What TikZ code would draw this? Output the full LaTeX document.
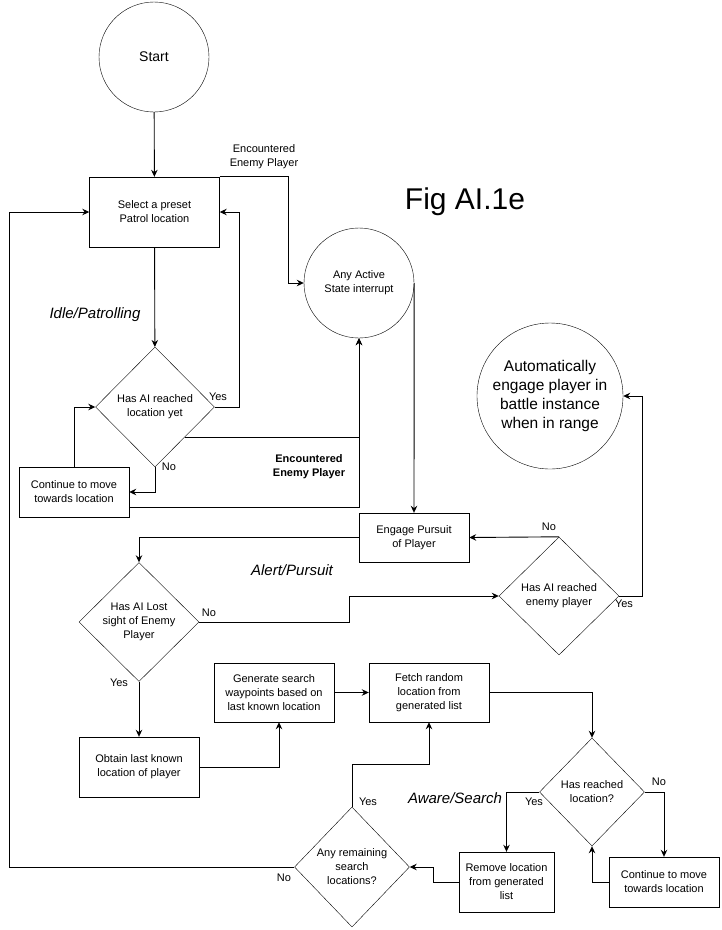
\documentclass[tikz,border=0pt]{standalone}
\usepackage{fontspec}
\setmainfont{Liberation Sans}
\usetikzlibrary{shapes.geometric,arrows.meta}

\begin{document}
\begin{tikzpicture}[x=1pt,y=-1pt,
    box/.style={draw, rectangle, align=center, inner sep=0pt, font=\fontsize{11}{14}\selectfont},
    decision/.style={draw, diamond, align=center, inner sep=-12pt, font=\fontsize{11}{14}\selectfont},
    state/.style={draw, circle, align=center, inner sep=0pt, font=\fontsize{11}{14}\selectfont},
    line/.style={line width=0.9pt, -{Stealth[length=7pt,width=6.5pt]}},
    lbl/.style={font=\fontsize{11}{14}\selectfont, align=center, inner sep=0pt},
    phase/.style={font=\fontsize{15}{18}\selectfont\itshape, inner sep=0pt}]
    \useasboundingbox (0,0) rectangle (722,930);

    \node[state, minimum size=110pt, font=\fontsize{14}{17}\selectfont] (start) at (154,57) {Start};
    \node[box, minimum width=130pt, minimum height=70pt] (select) at (154.5,212) {Select a preset\\Patrol location};
    \node[decision, minimum width=119pt, minimum height=120pt] (reached) at (155,407) {Has AI reached\\location yet};
    \node[box, minimum width=110pt, minimum height=50pt] (cont1) at (74,492) {Continue to move\\towards location};
    \node[state, minimum size=110pt] (interrupt) at (359,283) {Any Active\\State interrupt};
    \node[state, minimum size=146pt, font=\fontsize{15.5}{19}\selectfont] (auto) at (550,396) {Automatically\\engage player in\\battle instance\\when in range};
    \node[box, minimum width=110pt, minimum height=49pt] (engage) at (414,537.5) {Engage Pursuit\\of Player};
    \node[decision, minimum width=120pt, minimum height=118pt] (enemy) at (559,596) {Has AI reached\\enemy player};
    \node[decision, minimum width=120pt, minimum height=119pt] (lost) at (139,622) {Has AI Lost\\sight of Enemy\\Player};
    \node[box, minimum width=120pt, minimum height=60pt] (obtain) at (139,767) {Obtain last known\\location of player};
    \node[box, minimum width=120pt, minimum height=59pt] (generate) at (274,692.5) {Generate search\\waypoints based on\\last known location};
    \node[box, minimum width=120pt, minimum height=59pt] (fetch) at (429,692.5) {Fetch random\\location from\\generated list};
    \node[decision, minimum width=105pt, minimum height=108pt] (arrived) at (592,792) {Has reached\\location?};
    \node[box, minimum width=95pt, minimum height=60pt] (remove) at (506.5,882) {Remove location\\from generated\\list};
    \node[box, minimum width=110pt, minimum height=50pt] (cont2) at (664,882) {Continue to move\\towards location};
    \node[decision, minimum width=115pt, minimum height=120pt] (remain) at (352,867) {Any remaining\\search\\locations?};

    \node[font=\fontsize{30}{34}\selectfont, inner sep=0pt] (title) at (465,202) {Fig AI.1e};
    \node[phase] (idle) at (95,315) {Idle/Patrolling};
    \node[phase] (alert) at (292,570) {Alert/Pursuit};
    \node[phase] (aware) at (455,798) {Aware/Search};

    \node[lbl] (enc1) at (264,157) {Encountered\\Enemy Player};
    \node[lbl, font=\fontsize{11}{14}\selectfont\bfseries] (enc2) at (309,467) {Encountered\\Enemy Player};
    \node[lbl] (yes1) at (218,397) {Yes};
    \node[lbl] (no1) at (169,467) {No};
    \node[lbl] (no2) at (549,527) {No};
    \node[lbl] (yes2) at (624,604) {Yes};
    \node[lbl] (no3) at (209,613) {No};
    \node[lbl] (yes3) at (119,683) {Yes};
    \node[lbl] (yes4) at (534,802) {Yes};
    \node[lbl] (no4) at (659,782) {No};
    \node[lbl] (yes5) at (368,802) {Yes};
    \node[lbl] (no5) at (284,878) {No};

    \draw[line] (start) -- (select);
    \draw[line] (select.north east) -- ++(69,0) |- (interrupt.west);
    \draw[line] (select) -- (reached);
    \draw[line] (reached.east) -- ++(25,0) |- (select.east);
    \draw[line] (reached.south) |- (cont1.east);
    \draw[line] (cont1.north) |- (reached.west);
    \draw[line] (reached.south east) -| (interrupt.south);
    \draw[line] ([yshift=10pt]cont1.south east) -| (interrupt.south);
    \draw[line] (interrupt.east) -- (engage.north);
    \draw[line] (enemy.north) -- (engage.east);
    \draw[line] (enemy.east) -- ++(23,0) |- (auto.east);
    \draw[line] (engage.west) -| (lost.north);
    \draw[line] (lost.east) -- ++(150,0) |- (enemy.west);
    \draw[line] (lost.south) -- (obtain.north);
    \draw[line] (obtain.east) -| ([xshift=5pt]generate.south);
    \draw[line] (generate.east) -- (fetch.west);
    \draw[line] (fetch.east) -| (arrived.north);
    \draw[line] (arrived.west) -| (remove.north);
    \draw[line] (arrived.east) -| (cont2.north);
    \draw[line] (cont2.west) -| (arrived.south);
    \draw[line] (remove.west) -- ++(-25,0) |- (remain.east);
    \draw[line] (remain.north) -- ++(0,-42) -| (fetch.south);
    \draw[line] (remain.west) -- ++(-285,0) |- (select.west);
\end{tikzpicture}
\end{document}
